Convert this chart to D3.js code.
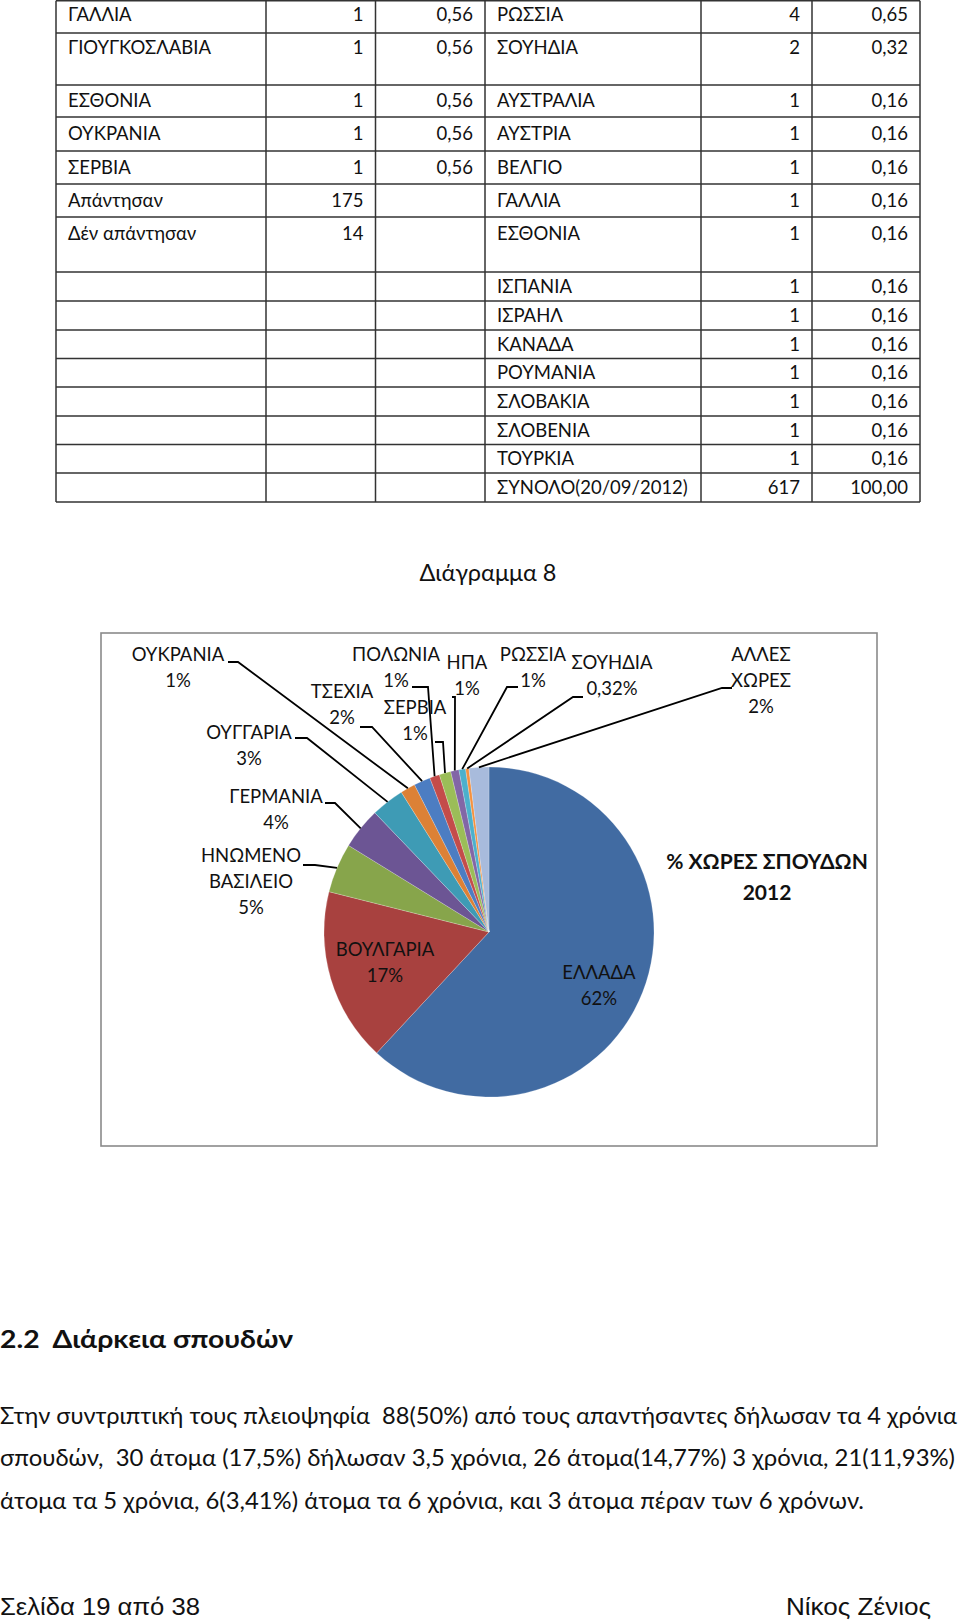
<!DOCTYPE html>
<html>
<head>
<meta charset="utf-8">
<script src="https://cdn.jsdelivr.net/npm/d3@7"></script>
<style>
  html, body { margin: 0; padding: 0; background: #fff; }
  svg { display: block; }
  text { white-space: pre; }
</style>
</head>
<body>
<svg id="page" width="960" height="1622"></svg>
<script>
// ---------------- DATA ----------------
const tableLeftCountries = ["ΓΑΛΛΙΑ", "ΓΙΟΥΓΚΟΣΛΑΒΙΑ", "ΕΣΘΟΝΙΑ", "ΟΥΚΡΑΝΙΑ", "ΣΕΡΒΙΑ", "Απάντησαν", "Δέν απάντησαν"];
const tableLeftCounts = ["1", "1", "1", "1", "1", "175", "14"];
const tableLeftPercents = ["0,56", "0,56", "0,56", "0,56", "0,56", "", ""];

const tableRightCountries = ["ΡΩΣΣΙΑ", "ΣΟΥΗΔΙΑ", "ΑΥΣΤΡΑΛΙΑ", "ΑΥΣΤΡΙΑ", "ΒΕΛΓΙΟ", "ΓΑΛΛΙΑ", "ΕΣΘΟΝΙΑ",
  "ΙΣΠΑΝΙΑ", "ΙΣΡΑΗΛ", "ΚΑΝΑΔΑ", "ΡΟΥΜΑΝΙΑ", "ΣΛΟΒΑΚΙΑ", "ΣΛΟΒΕΝΙΑ", "ΤΟΥΡΚΙΑ", "ΣΥΝΟΛΟ(20/09/2012)"];
const tableRightCounts = ["4", "2", "1", "1", "1", "1", "1", "1", "1", "1", "1", "1", "1", "1", "617"];
const tableRightPercents = ["0,65", "0,32", "0,16", "0,16", "0,16", "0,16", "0,16",
  "0,16", "0,16", "0,16", "0,16", "0,16", "0,16", "0,16", "100,00"];

const pieCountries = ["ΕΛΛΑΔΑ", "ΒΟΥΛΓΑΡΙΑ", "ΗΝΩΜΕΝΟ ΒΑΣΙΛΕΙΟ", "ΓΕΡΜΑΝΙΑ", "ΟΥΓΓΑΡΙΑ", "ΟΥΚΡΑΝΙΑ",
  "ΤΣΕΧΙΑ", "ΠΟΛΩΝΙΑ", "ΣΕΡΒΙΑ", "ΗΠΑ", "ΡΩΣΣΙΑ", "ΣΟΥΗΔΙΑ", "ΆΛΛΕΣ ΧΩΡΕΣ"];
const pieValues = [382, 105, 30, 25, 20, 9, 10, 6, 7, 5, 4, 2, 12];
const pieLabels = ["62%", "17%", "5%", "4%", "3%", "1%", "2%", "1%", "1%", "1%", "1%", "0,32%", "2%"];

const chartCaption = "Διάγραμμα 8";
const chartTitle = ["% ΧΩΡΕΣ ΣΠΟΥΔΩΝ", "2012"];
const heading = "2.2  Διάρκεια σπουδών";
const bodyLines = [
  "Στην συντριπτική τους πλειοψηφία  88(50%) από τους απαντήσαντες δήλωσαν τα 4 χρόνια",
  "σπουδών,  30 άτομα (17,5%) δήλωσαν 3,5 χρόνια, 26 άτομα(14,77%) 3 χρόνια, 21(11,93%)",
  "άτομα τα 5 χρόνια, 6(3,41%) άτομα τα 6 χρόνια, και 3 άτομα πέραν των 6 χρόνων."
];
const footerLeft = "Σελίδα 19 από 38";
const footerRight = "Νίκος Ζένιος";

// ---------------- STYLE / LAYOUT ----------------
const FONT = "Lato, Carlito, 'Open Sans', sans-serif";
const NARROW = "'Liberation Sans Narrow', 'Arial Narrow', 'Liberation Sans', sans-serif";
const sliceColors = ["#416BA2", "#A8413F", "#87A54B", "#6C5594", "#3E9BB5", "#DC8136",
  "#4C7DC2", "#C44C4A", "#9BBD58", "#8266A6", "#4CB0CC", "#F4913F", "#A8BBDC"];

const svg = d3.select("#page");

function fitWidth(sel, width) {
  sel.each(function () {
    const w = this.getComputedTextLength();
    if (w > 0) {
      const fs = parseFloat(this.getAttribute("font-size"));
      this.setAttribute("font-size", (fs * width / w).toFixed(2));
    }
  });
}
function squeeze(sel, width) {
  sel.attr("textLength", width).attr("lengthAdjust", "spacingAndGlyphs");
}

// ---------------- TABLE ----------------
const colEdges = [56, 266, 375.5, 485, 701, 812, 920];
const rowEdges = [0.7, 33, 85, 117, 151, 184, 217, 272, 301, 330, 358.5, 387, 416, 444.5, 473, 502];
const rowTextOffset = [14, 14.6, 15.5, 16.5, 16.6, 16.7, 16.8, 14.6, 14.5, 14.5, 14, 14.4, 14.3, 14, 14.2];
const tableFont = 18.5;

const table = svg.append("g").attr("class", "table");
table.selectAll("line.h").data(rowEdges).join("line")
  .attr("x1", colEdges[0]).attr("x2", colEdges[colEdges.length - 1])
  .attr("y1", d => d).attr("y2", d => d)
  .attr("stroke", "#333").attr("stroke-width", 1.5);
table.selectAll("line.v").data(colEdges).join("line")
  .attr("x1", d => d).attr("x2", d => d)
  .attr("y1", rowEdges[0]).attr("y2", rowEdges[rowEdges.length - 1])
  .attr("stroke", "#333").attr("stroke-width", 1.5);

function cellText(values, col, align) {
  const pad = 12;
  table.append("g").selectAll("text").data(values).join("text")
    .attr("x", align === "start" ? colEdges[col] + pad : colEdges[col + 1] - pad)
    .attr("y", (d, i) => rowEdges[i] + rowTextOffset[i])
    .attr("dy", "0.35em")
    .attr("text-anchor", align)
    .attr("font-family", FONT).attr("font-size", tableFont)
    .attr("fill", "#111")
    .text(d => d);
}
cellText(tableLeftCountries, 0, "start");
cellText(tableLeftCounts, 1, "end");
cellText(tableLeftPercents, 2, "end");
cellText(tableRightCountries, 3, "start");
cellText(tableRightCounts, 4, "end");
cellText(tableRightPercents, 5, "end");

// ---------------- CAPTION ----------------
svg.append("text").attr("x", 488).attr("y", 573).attr("dy", "0.35em")
  .attr("text-anchor", "middle").attr("font-family", FONT).attr("font-size", 22)
  .attr("fill", "#111").text(chartCaption)
  .call(fitWidth, 137);

// ---------------- CHART ----------------
const box = { x: 101, y: 633, w: 776, h: 513 };
svg.append("rect").attr("x", box.x).attr("y", box.y).attr("width", box.w).attr("height", box.h)
  .attr("fill", "#fff").attr("stroke", "#8a8a8a").attr("stroke-width", 1.6);

const cx = 489, cy = 932, R = 165;
const pie = d3.pie().sort(null).value(d => d.value).startAngle(0).endAngle(2 * Math.PI);
const pieData = pieValues.map((v, i) => ({ value: v, name: pieCountries[i], label: pieLabels[i], color: sliceColors[i] }));
const arcs = pie(pieData);
const arc = d3.arc().innerRadius(0).outerRadius(R);

const gPie = svg.append("g").attr("transform", `translate(${cx},${cy})`);
gPie.selectAll("path").data(arcs).join("path")
  .attr("d", arc)
  .attr("fill", d => d.data.color)
  .attr("stroke", "rgba(255,255,255,0.35)").attr("stroke-width", 0.6);

const labelLayout = {
  0: { x: 599, y: 973, lines: ["ΕΛΛΑΔΑ"] },
  1: { x: 385, y: 950, lines: ["ΒΟΥΛΓΑΡΙΑ"] },
  2: { x: 251, y: 856, lines: ["ΗΝΩΜΕΝΟ", "ΒΑΣΙΛΕΙΟ"], lead: [[303, 865], [315, 865]] },
  3: { x: 276, y: 797, lines: ["ΓΕΡΜΑΝΙΑ"], lead: [[325, 803], [335, 803]] },
  4: { x: 249, y: 733, lines: ["ΟΥΓΓΑΡΙΑ"], lead: [[295, 738], [307, 738]] },
  5: { x: 178, y: 655, lines: ["ΟΥΚΡΑΝΙΑ"], lead: [[228, 662], [238, 662]] },
  6: { x: 342, y: 692, lines: ["ΤΣΕΧΙΑ"], lead: [[360, 727], [372, 727]] },
  7: { x: 396, y: 655, lines: ["ΠΟΛΩΝΙΑ"], lead: [[412, 687], [428, 687]] },
  8: { x: 415, y: 708, lines: ["ΣΕΡΒΙΑ"], lead: [[435, 742], [443, 742]] },
  9: { x: 467, y: 663, lines: ["ΗΠΑ"], lead: [[452, 697], [455, 697]] },
  10: { x: 533, y: 655, lines: ["ΡΩΣΣΙΑ"], lead: [[518, 687], [507, 687]] },
  11: { x: 612, y: 663, lines: ["ΣΟΥΗΔΙΑ"], lead: [[583, 697], [573, 697]] },
  12: { x: 761, y: 655, lines: ["ΆΛΛΕΣ", "ΧΩΡΕΣ"], lead: [[732, 688], [722, 688]] }
};
const lineGap = 25.8;
const labelFont = 18.5;

const gLeaders = svg.append("g");
const gLabels = svg.append("g");
arcs.forEach((a, i) => {
  const L = labelLayout[i];
  const lines = L.lines.concat([a.data.label]);
  const t = gLabels.append("text").attr("text-anchor", "middle")
    .attr("font-family", FONT).attr("font-size", labelFont).attr("fill", "#111");
  lines.forEach((s, k) => {
    t.append("tspan").attr("x", L.x).attr("y", L.y + k * lineGap).attr("dy", "0.35em").text(s);
  });
  if (L.lead) {
    const mid = (a.startAngle + a.endAngle) / 2;
    const px = cx + Math.sin(mid) * R, py = cy - Math.cos(mid) * R;
    gLeaders.append("polyline")
      .attr("points", [L.lead[0], L.lead[1], [px, py]].map(p => p.join(",")).join(" "))
      .attr("fill", "none").attr("stroke", "#000").attr("stroke-width", 1.8);
  }
});

const tTitle = svg.append("text").attr("text-anchor", "middle")
  .attr("font-family", FONT).attr("font-weight", "bold").attr("font-size", 21).attr("fill", "#111");
chartTitle.forEach((s, k) => {
  tTitle.append("tspan").attr("x", 767).attr("y", 862 + k * 30.5).attr("dy", "0.35em").text(s);
});

// ---------------- BODY TEXT ----------------
svg.append("text").attr("x", 0).attr("y", 1339).attr("dy", "0.35em")
  .attr("font-family", FONT).attr("font-weight", "bold").attr("font-size", 25.5).attr("fill", "#111")
  .text(heading).call(squeeze, 293);

const bodyWidths = [957, 955, 864];
svg.append("g").selectAll("text").data(bodyLines).join("text")
  .attr("x", 0).attr("y", (d, i) => 1416 + i * 42.5).attr("dy", "0.35em")
  .attr("font-family", FONT).attr("font-size", 22.5).attr("fill", "#111")
  .text(d => d)
  .each(function (d, i) { d3.select(this).call(squeeze, bodyWidths[i]); });

// ---------------- FOOTER ----------------
svg.append("text").attr("x", 0).attr("y", 1607).attr("dy", "0.35em")
  .attr("font-family", NARROW).attr("font-size", 24).attr("fill", "#111")
  .text(footerLeft).call(squeeze, 200);
svg.append("text").attr("x", 786).attr("y", 1607).attr("dy", "0.35em")
  .attr("font-family", NARROW).attr("font-size", 24).attr("fill", "#111")
  .text(footerRight).call(squeeze, 145);
</script>
</body>
</html>
